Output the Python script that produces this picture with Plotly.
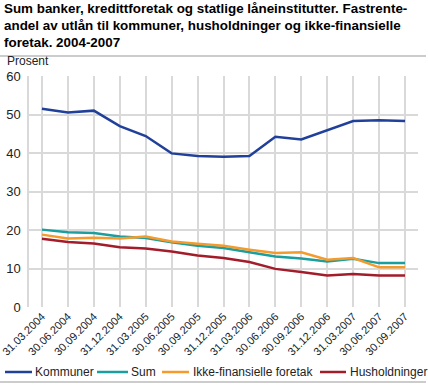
import plotly.graph_objects as go

categories = ["31.03.2004", "30.06.2004", "30.09.2004", "31.12.2004", "31.03.2005",
              "30.06.2005", "30.09.2005", "31.12.2005", "31.03.2006", "30.06.2006",
              "30.09.2006", "31.12.2006", "31.03.2007", "30.06.2007", "30.09.2007"]
kommuner = [51.5, 50.5, 51.0, 47.0, 44.4, 39.9, 39.2, 39.0, 39.2, 44.2, 43.5, 46.0, 48.3, 48.5, 48.3]
sum_ = [20.1, 19.4, 19.2, 18.3, 17.9, 16.8, 15.9, 15.3, 14.2, 13.1, 12.6, 11.8, 12.5, 11.4, 11.4]
ikke_fin = [18.8, 17.8, 18.0, 17.8, 18.3, 17.0, 16.4, 15.9, 14.9, 14.0, 14.2, 12.3, 12.7, 10.3, 10.3]
husholdninger = [17.7, 16.9, 16.5, 15.5, 15.2, 14.4, 13.4, 12.7, 11.7, 9.9, 9.1, 8.2, 8.6, 8.2, 8.2]

series_names = ["Kommuner", "Sum", "Ikke-finansielle foretak", "Husholdninger"]
series_values = [kommuner, sum_, ikke_fin, husholdninger]
colors = ["#21409a", "#1a9e9e", "#f59a2c", "#a21c2a"]
y_ticks = [0, 10, 20, 30, 40, 50, 60]
title_lines = ["Sum banker, kredittforetak og statlige låneinstitutter. Fastrente-",
               "andel av utlån til kommuner, husholdninger og ikke-finansielle",
               "foretak. 2004-2007"]

W, H = 428, 385
L, R, T, B = 29, 10, 76, 78
pw = W - L - R
ph = H - T - B

def px_x(p):
    return (p - L) / pw

def px_y(p):
    return (H - B - p) / ph

fig = go.Figure()
for name, vals, col in zip(series_names, series_values, colors):
    fig.add_trace(go.Scatter(x=categories, y=vals, mode="lines", name=name,
                             line=dict(color=col, width=2.5), showlegend=False))

font_family = "Liberation Sans, Arial, sans-serif"

# Manual legend
legend_pos = [(5, 32, 33), (97, 128, 129), (162, 189, 191), (320, 346, 348)]
shapes = []
annotations = []
for (x0, x1, xt), name, col in zip(legend_pos, series_names, colors):
    shapes.append(dict(type="line", xref="paper", yref="paper",
                       x0=px_x(x0), x1=px_x(x1), y0=px_y(372), y1=px_y(372),
                       line=dict(color=col, width=2.5)))
    annotations.append(dict(text=name, xref="paper", yref="paper",
                            x=px_x(xt), y=px_y(372), xanchor="left", yanchor="middle",
                            showarrow=False, font=dict(size=12, color="#222", family=font_family)))

# rules
shapes.append(dict(type="line", xref="paper", yref="paper", x0=px_x(0), x1=px_x(426),
                   y0=px_y(56), y1=px_y(56), line=dict(color="#bbbbbb", width=1.5)))
shapes.append(dict(type="line", xref="paper", yref="paper", x0=px_x(0), x1=px_x(426),
                   y0=px_y(382), y1=px_y(382), line=dict(color="#bbbbbb", width=1.5)))

annotations.append(dict(text="Prosent", xref="paper", yref="paper", x=px_x(5), y=px_y(70),
                        xanchor="left", yanchor="bottom", showarrow=False,
                        font=dict(size=12, color="#222", family=font_family)))

# title lines
for i, line in enumerate(title_lines):
    annotations.append(dict(text="<b>" + line + "</b>", xref="paper", yref="paper",
                            x=px_x(2), y=px_y(8 + 17 * i), xanchor="left", yanchor="middle",
                            showarrow=False,
                            font=dict(size=13.4, color="#000", family=font_family)))

fig.update_layout(
    width=W, height=H,
    template="none",
    margin=dict(l=L, r=R, t=T, b=B, autoexpand=False),
    paper_bgcolor="white", plot_bgcolor="white",
    showlegend=False,
    xaxis=dict(type="category", tickangle=-45, showgrid=True, gridcolor="#d9d9d9", gridwidth=1.5,
               tickfont=dict(size=11, color="#222", family=font_family), ticks="",
               showline=False, zeroline=False, automargin=False,
               range=[-0.5, len(categories) - 0.5]),
    yaxis=dict(range=[0, 60], tickvals=y_ticks, showgrid=True, gridcolor="#d9d9d9", gridwidth=1.5,
               tickfont=dict(size=13, color="#222", family=font_family), ticks="",
               showline=True, linecolor="#d9d9d9", linewidth=1.5, zeroline=False,
               automargin=False, ticklabelstandoff=4),
    shapes=shapes, annotations=annotations,
)

fig.write_html("out.html", config={"displayModeBar": False},
               post_script="document.body.style.margin='0';document.body.style.padding='0';")
